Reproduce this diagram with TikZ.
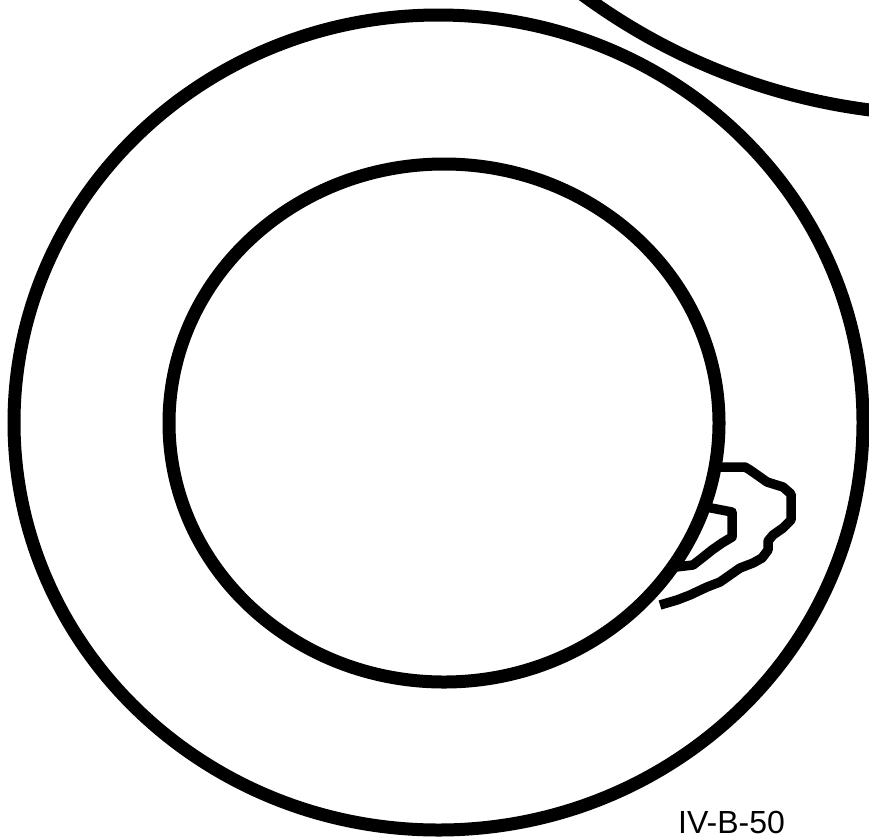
\documentclass[tikz,border=0pt]{standalone}
\usepackage{fontspec}
\setmainfont{Liberation Sans}
\begin{document}
\begin{tikzpicture}[x=1pt,y=-1pt,
  ring/.style={line width=13pt},
  wisp/.style={line width=9.5pt, line join=round, line cap=butt}]
\useasboundingbox (0,0) rectangle (869,839);
\begin{scope}
\clip (0,0) rectangle (869,839);
\draw[ring] (438.5,422.5) ellipse [x radius=424.5, y radius=407.5];
\draw[ring] (444,423) ellipse [x radius=275, y radius=259];
\draw[ring] (949,-503) circle [radius=618];
\end{scope}
% outer wisp
\draw[wisp] (714,467) -- (745,467) -- (750,470) -- (760,477) -- (767,482) -- (783,487)
  -- (791,494) -- (791,520) -- (783,528) -- (773,535) -- (768,541) -- (768,550)
  -- (762,558) -- (753,563) -- (740,568) -- (730,575) -- (720,582) -- (707,587)
  -- (690,595) -- (677,600) -- (660,605);
% inner wisp
\draw[wisp] (706,507) -- (732,512) -- (732,537) -- (722,543) -- (712,550)
  -- (702,558) -- (693,565) -- (676,567);
\node[anchor=base west, inner sep=0pt, font=\fontsize{32}{32}\selectfont] (lbl) at (678,833.5) {IV-B-50};
\end{tikzpicture}
\end{document}
